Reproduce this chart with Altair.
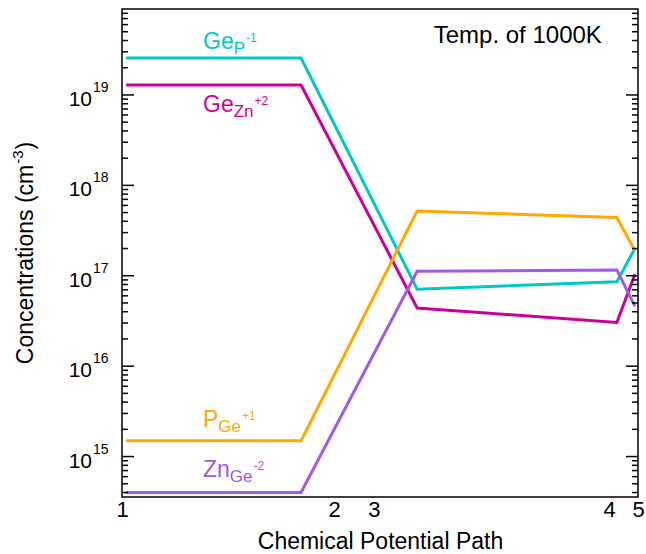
import altair as alt
import pandas as pd

FONT = "Liberation Sans"

# ---- data ----
species = ["GeP", "GeZn", "PGe", "ZnGe"]
colors = ["#00C8C8", "#CC0099", "#FFA800", "#A259E6"]
path_x = [0.8, 34.7, 57.2, 95.9, 99.4]
conc_GeP = [2.56e19, 2.56e19, 7.1e16, 8.6e16, 2.0e17]
conc_GeZn = [1.29e19, 1.29e19, 4.4e16, 3.04e16, 1.04e17]
conc_PGe = [1.5e15, 1.5e15, 5.2e17, 4.4e17, 1.9e17]
conc_ZnGe = [4.0e14, 4.0e14, 1.12e17, 1.16e17, 4.6e16]

tick_pos = [0, 41.1, 48.8, 94.4, 100]
tick_text = ["1", "2", "3", "4", "5"]

major_exps = [15, 16, 17, 18, 19]
minor_mult = [2, 3, 4, 5, 6, 7, 8, 9]
minor_exps = [14, 15, 16, 17, 18, 19]

label_main = ["Ge", "Ge", "P", "Zn"]
label_sub = ["P", "Zn", "Ge", "Ge"]
label_sup = ["-1", "+2", "+1", "-2"]
label_x = [15.7, 15.7, 15.7, 15.7]
label_y = [3.2e19, 6.5e18, 2.1e15, 5.9e14]

temp_text = "Temp. of 1000K"
temp_x = [76.7]
temp_y = [3.76e19]

ytitle_parts = ["Concentrations (cm", "-3", ")"]

# ---- layout ----
W, H = 516, 488
Y_DOMAIN = [3.57e14, 8.93e19]
xscale = alt.Scale(domain=[0, 100], nice=False, zero=False)
yscale = alt.Scale(type="log", domain=Y_DOMAIN, nice=False)

rows = []
for name, vals in zip(species, [conc_GeP, conc_GeZn, conc_PGe, conc_ZnGe]):
    for i, (x, v) in enumerate(zip(path_x, vals)):
        rows.append(dict(species=name, x=x, c=v, order=i))
df = pd.DataFrame(rows)

label_expr = " : ".join(
    f"datum.value == {p} ? '{t}'" for p, t in zip(tick_pos, tick_text)
) + " : ''"

xaxis = alt.Axis(
    values=tick_pos, labelExpr=label_expr, ticks=False, tickSize=0, domain=False,
    grid=False, labelFlush=False, labelOverlap=False, labelBound=False,
    labelFont=FONT, labelFontSize=22, labelColor="black", labelPadding=2,
    title="Chemical Potential Path", titleFont=FONT, titleFontSize=23,
    titleFontWeight="normal", titleColor="black", titleY=51,
    titleBaseline="alphabetic",
)
yaxis = alt.Axis(labels=False, ticks=False, domain=False, grid=False, title="")

def X(field):
    return alt.X(field, scale=xscale, axis=xaxis)

def Y(field):
    return alt.Y(field, scale=yscale, axis=yaxis)

lines = alt.Chart(df).mark_line(strokeWidth=3).encode(
    x=X("x:Q"),
    y=Y("c:Q"),
    color=alt.Color("species:N", scale=alt.Scale(domain=species, range=colors), legend=None),
    detail="species:N",
    order="order:Q",
)

lo, hi = Y_DOMAIN
major_df = pd.DataFrame({"v": [10.0 ** e for e in major_exps], "e": [str(e) for e in major_exps],
                         "base": ["10"] * len(major_exps)})
minor_vals = [m * 10.0 ** e for e in minor_exps for m in minor_mult]
minor_df = pd.DataFrame({"v": [v for v in minor_vals if lo <= v <= hi]})

def tick_layer(data, x0, x1):
    return alt.Chart(data).mark_rule(color="black", strokeWidth=1.5).encode(
        x=alt.value(x0), x2=alt.value(x1), y=Y("v:Q"),
    )

ticks = [
    tick_layer(major_df, 0, 12), tick_layer(minor_df, 0, 6),
    tick_layer(major_df, W, W - 12), tick_layer(minor_df, W, W - 6),
]

ylab10 = alt.Chart(major_df).mark_text(
    align="right", baseline="alphabetic", dy=11, fontSize=21, font=FONT, color="black"
).encode(x=alt.value(-30), y=Y("v:Q"), text="base:N")
ylabexp = alt.Chart(major_df).mark_text(
    align="left", baseline="alphabetic", dy=-3, fontSize=14, font=FONT, color="black"
).encode(x=alt.value(-29), y=Y("v:Q"), text="e:N")

# approximate Arial advance widths (em) to chain sub/superscripts
CW = {"G": 0.778, "e": 0.556, "P": 0.667, "Z": 0.611, "n": 0.556, "C": 0.722,
      "o": 0.556, "c": 0.5, "t": 0.278, "r": 0.333, "a": 0.556, "i": 0.222,
      "s": 0.5, " ": 0.278, "(": 0.333, ")": 0.333, "m": 0.833, "-": 0.333}
def tw(s, size):
    return sum(CW.get(ch, 0.556) for ch in s) * size

MAIN, SUB, SUP = 23, 17, 12
label_layers = []
for i in range(len(species)):
    d = pd.DataFrame({"x": [label_x[i]], "y": [label_y[i]], "m": [label_main[i]],
                      "s": [label_sub[i]], "p": [label_sup[i]]})
    wm = tw(label_main[i], MAIN)
    ws = tw(label_sub[i], SUB)
    label_layers.append(alt.Chart(d).mark_text(
        align="left", baseline="alphabetic", fontSize=MAIN, font=FONT, color=colors[i]
    ).encode(x=X("x:Q"), y=Y("y:Q"), text="m:N"))
    label_layers.append(alt.Chart(d).mark_text(
        align="left", baseline="alphabetic", fontSize=SUB, font=FONT, color=colors[i],
        dx=wm, dy=5
    ).encode(x=X("x:Q"), y=Y("y:Q"), text="s:N"))
    label_layers.append(alt.Chart(d).mark_text(
        align="left", baseline="alphabetic", fontSize=SUP, font=FONT, color=colors[i],
        dx=wm + ws + 1, dy=-7
    ).encode(x=X("x:Q"), y=Y("y:Q"), text="p:N"))

temp = alt.Chart(pd.DataFrame({"x": temp_x, "y": temp_y, "t": [temp_text]})).mark_text(
    align="center", baseline="alphabetic", fontSize=24, font=FONT, color="black"
).encode(x=X("x:Q"), y=Y("y:Q"), text="t:N")

# rotated y-axis title with a real superscript, centred on the plot height
TT, TS = 23, 15
w0 = tw(ytitle_parts[0], TT)
w1 = tw(ytitle_parts[1], TS)
w2 = tw(ytitle_parts[2], TT)
total = w0 + w1 + w2 + 2
ty_start = H / 2 + total / 2
ytitle_layers = []
for txt, size, dx, dy in [
    (ytitle_parts[0], TT, 0, 0),
    (ytitle_parts[1], TS, w0 + 1, -10),
    (ytitle_parts[2], TT, w0 + w1 + 2, 0),
]:
    ytitle_layers.append(
        alt.Chart(pd.DataFrame({"t": [txt]})).mark_text(
            align="left", baseline="alphabetic", angle=270, fontSize=size, font=FONT,
            color="black", dx=dx, dy=dy,
        ).encode(x=alt.value(-89), y=alt.value(ty_start), text="t:N")
    )

chart = alt.layer(lines, *ticks, ylab10, ylabexp, *label_layers, temp, *ytitle_layers).properties(
    width=W, height=H,
    padding={"left": 122, "top": 9, "right": 8, "bottom": 57},
    autosize=alt.AutoSizeParams(type="none"),
).configure_view(stroke="black", strokeWidth=1.5)

chart.save("out.html", embed_options={"renderer": "svg", "actions": False})
